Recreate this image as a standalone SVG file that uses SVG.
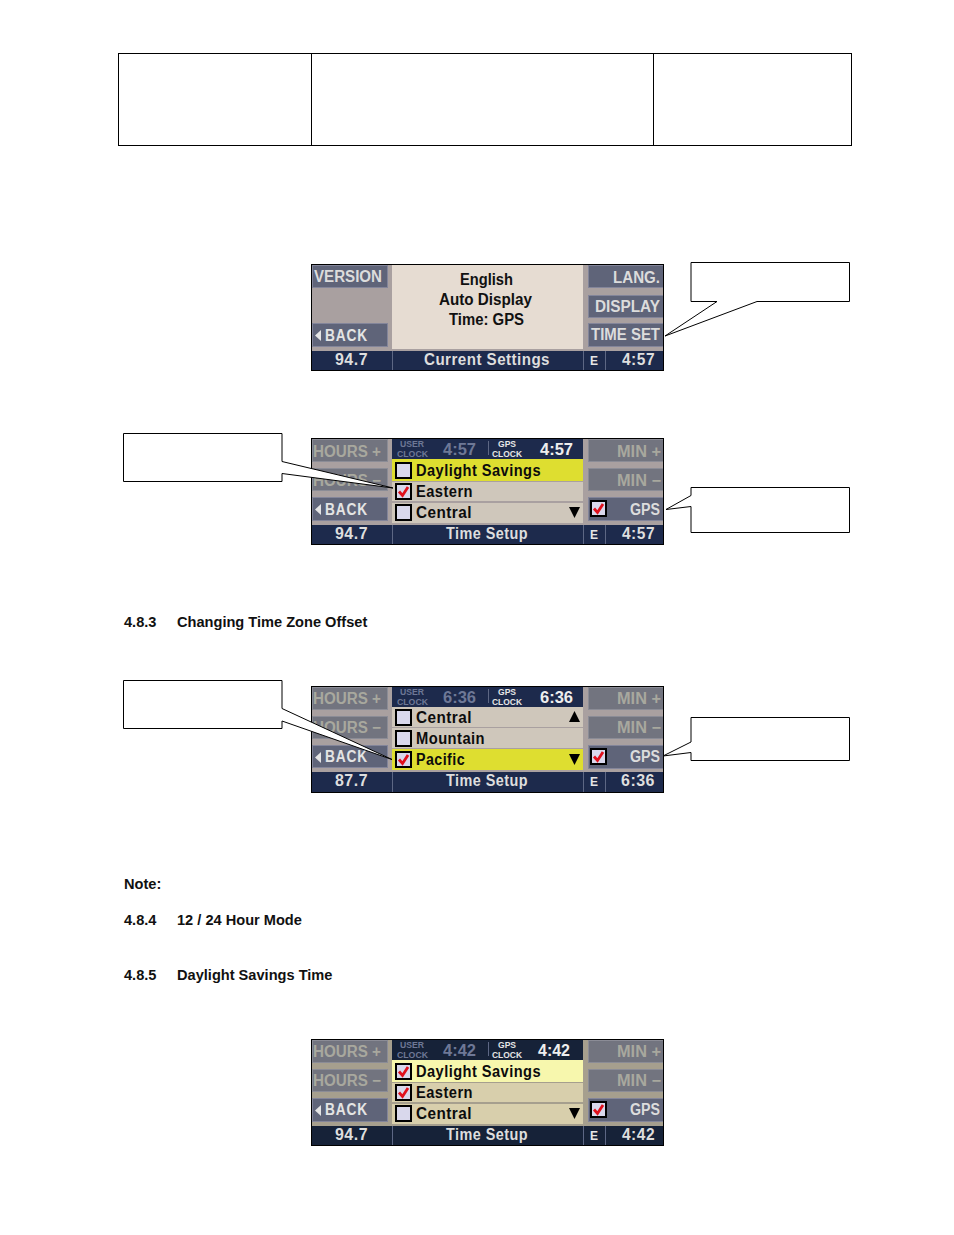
<svg xmlns="http://www.w3.org/2000/svg" xmlns:xlink="http://www.w3.org/1999/xlink" width="954" height="1235" viewBox="0 0 954 1235">
<style>
text{font-family:"Liberation Sans",Arial,sans-serif}
.panel{fill:#a9a0a0}
.frame{fill:none;stroke:#000;stroke-width:1}
.btn{fill:#5f6479;stroke:#83859a;stroke-width:1}
.dim{fill:#72747f;stroke:#8b8c96;stroke-width:1}
.nav{fill:#1d2a4c}
.sep{stroke:#5d6784;stroke-width:1}
.bl{font-size:16px;font-weight:bold;fill:#dcdcdc}
.bd{font-size:16px;font-weight:bold;fill:#a8a89e}
.bb{font-size:16px;font-weight:bold;fill:#e4e4e4;letter-spacing:1px}
.bar{font-size:16px;font-weight:bold;fill:#dedede;letter-spacing:.5px}
.e{font-size:12px;font-weight:bold;fill:#e6e6e6;text-anchor:middle}
.row{font-size:16px;font-weight:bold;fill:#0c0c0c;letter-spacing:.5px}
.cen{font-size:16px;font-weight:bold;fill:#111}
.tiny{font-size:8.500px;font-weight:bold;fill:#6e7896}
.tinyw{font-size:8.500px;font-weight:bold;fill:#e6e6e6}
.clkd{font-size:16px;font-weight:bold;fill:#6e7896}
.clkw{font-size:16px;font-weight:bold;fill:#eee}
.call{fill:#fff;stroke:#000;stroke-width:1}
.head{font-size:14.600px;font-weight:bold;fill:#111}
.tbl{fill:none;stroke:#000;stroke-width:1}
</style>
<defs>
<g id="box"><rect x="1" y="1" width="15" height="15" fill="#d9d8ec" stroke="#000" stroke-width="2"/></g>
<g id="chk"><rect x="1" y="1" width="15" height="15" fill="#d9d8ec" stroke="#000" stroke-width="2"/><path d="M4 8.500L7.500 12.500L13 4" fill="none" stroke="#e0101c" stroke-width="2.800"/></g>
<path id="back" d="M10 66L4 71.500L10 77Z" fill="#e4e4e4"/>
</defs>

<g id="header-table">
<rect class="tbl" x="118.500" y="53.500" width="733" height="92"/>
<path class="tbl" d="M311.500 53.500V145.500M653.500 53.500V145.500"/>
</g>

<g id="screen-current-settings" transform="translate(311 264)">
<rect class="panel" x="0" y="0" width="353" height="107"/>
<rect class="btn" x="1.500" y="1.500" width="75" height="22"/>
<rect class="btn" x="1.500" y="59.500" width="75" height="23"/>
<rect class="btn" x="277.500" y="1.500" width="75" height="22"/>
<rect class="btn" x="277.500" y="31.500" width="75" height="22"/>
<rect class="btn" x="277.500" y="59.500" width="75" height="23"/>
<rect x="81" y="0" width="191" height="85" fill="#e6dcd2"/>
<rect class="nav" x="0" y="87" width="353" height="20"/>
<path class="sep" d="M81.500 87V107M272.500 87V107M294.500 87V107"/>
<text class="bl" x="3" y="18" textLength="68" lengthAdjust="spacingAndGlyphs">VERSION</text>
<use href="#back" xlink:href="#back"/>
<text class="bb" x="14" y="77" textLength="43" lengthAdjust="spacingAndGlyphs">BACK</text>
<text class="bl" x="302" y="19" textLength="47" lengthAdjust="spacingAndGlyphs">LANG.</text>
<text class="bl" x="284" y="48" textLength="65" lengthAdjust="spacingAndGlyphs">DISPLAY</text>
<text class="bl" x="280" y="76" textLength="69" lengthAdjust="spacingAndGlyphs">TIME SET</text>
<text class="cen" x="149" y="21" textLength="53" lengthAdjust="spacingAndGlyphs">English</text>
<text class="cen" x="128" y="41" textLength="93" lengthAdjust="spacingAndGlyphs">Auto Display</text>
<text class="cen" x="138" y="61" textLength="75" lengthAdjust="spacingAndGlyphs">Time: GPS</text>
<text class="bar" x="24" y="101" textLength="33" lengthAdjust="spacingAndGlyphs">94.7</text>
<text class="bar" x="113" y="101" textLength="126" lengthAdjust="spacingAndGlyphs">Current Settings</text>
<text class="e" x="283" y="101">E</text>
<text class="bar" x="311" y="101" textLength="33" lengthAdjust="spacingAndGlyphs">4:57</text>
<rect class="frame" x="0.500" y="0.500" width="352" height="106"/>
</g>

<g id="screen-time-setup-eastern" transform="translate(311 438)">
<rect class="panel" x="0" y="0" width="353" height="107"/>
<rect class="dim" x="1.500" y="1.500" width="75" height="22"/>
<rect class="dim" x="1.500" y="30.500" width="75" height="22"/>
<rect class="btn" x="1.500" y="59.500" width="75" height="23"/>
<rect class="dim" x="277.500" y="1.500" width="75" height="22"/>
<rect class="dim" x="277.500" y="30.500" width="75" height="22"/>
<rect class="btn" x="277.500" y="59.500" width="75" height="23"/>
<rect class="nav" x="81" y="1" width="191" height="20"/>
<rect x="81" y="21" width="191" height="22" fill="#dede30"/>
<rect x="81" y="44" width="191" height="19" fill="#cfc7bb"/>
<rect x="81" y="65" width="191" height="20" fill="#cfc7bb"/>
<rect class="nav" x="0" y="87" width="353" height="20"/>
<path class="sep" d="M81.500 87V107M272.500 87V107M294.500 87V107M177.500 3V17"/>
<text class="bd" x="2" y="19" textLength="68" lengthAdjust="spacingAndGlyphs">HOURS +</text>
<text class="bd" x="2" y="48" textLength="68" lengthAdjust="spacingAndGlyphs">HOURS −</text>
<use href="#back" xlink:href="#back"/>
<text class="bb" x="14" y="77" textLength="43" lengthAdjust="spacingAndGlyphs">BACK</text>
<text class="bd" x="306" y="19" textLength="44" lengthAdjust="spacingAndGlyphs">MIN +</text>
<text class="bd" x="306" y="48" textLength="44" lengthAdjust="spacingAndGlyphs">MIN −</text>
<use href="#chk" xlink:href="#chk" x="279" y="62"/>
<text class="bl" x="319" y="77" textLength="30" lengthAdjust="spacingAndGlyphs">GPS</text>
<text class="tiny" x="89" y="9" textLength="24" lengthAdjust="spacingAndGlyphs">USER</text>
<text class="tiny" x="86" y="18.700" textLength="31" lengthAdjust="spacingAndGlyphs">CLOCK</text>
<text class="clkd" x="132" y="17" textLength="33" lengthAdjust="spacingAndGlyphs">4:57</text>
<text class="tinyw" x="187" y="9" textLength="18" lengthAdjust="spacingAndGlyphs">GPS</text>
<text class="tinyw" x="181" y="18.700" textLength="30" lengthAdjust="spacingAndGlyphs">CLOCK</text>
<text class="clkw" x="229" y="17" textLength="33" lengthAdjust="spacingAndGlyphs">4:57</text>
<use href="#box" xlink:href="#box" x="84" y="24"/>
<text class="row" x="105" y="38" textLength="125" lengthAdjust="spacingAndGlyphs">Daylight Savings</text>
<use href="#chk" xlink:href="#chk" x="84" y="45"/>
<text class="row" x="105" y="59" textLength="57" lengthAdjust="spacingAndGlyphs">Eastern</text>
<use href="#box" xlink:href="#box" x="84" y="66"/>
<text class="row" x="105" y="80" textLength="56" lengthAdjust="spacingAndGlyphs">Central</text>
<path d="M258 69H269L263.500 80Z" fill="#000"/>
<text class="bar" x="24" y="101" textLength="33" lengthAdjust="spacingAndGlyphs">94.7</text>
<text class="bar" x="135" y="101" textLength="82" lengthAdjust="spacingAndGlyphs">Time Setup</text>
<text class="e" x="283" y="101">E</text>
<text class="bar" x="311" y="101" textLength="33" lengthAdjust="spacingAndGlyphs">4:57</text>
<rect class="frame" x="0.500" y="0.500" width="352" height="106"/>
</g>

<g id="heading-483">
<text class="head" x="124" y="627">4.8.3</text>
<text class="head" x="177" y="627">Changing Time Zone Offset</text>
</g>

<g id="screen-time-setup-pacific" transform="translate(311 686)">
<rect class="panel" x="0" y="0" width="353" height="107"/>
<rect class="dim" x="1.500" y="1.500" width="75" height="22"/>
<rect class="dim" x="1.500" y="30.500" width="75" height="22"/>
<rect class="btn" x="1.500" y="59.500" width="75" height="22"/>
<rect class="dim" x="277.500" y="1.500" width="75" height="22"/>
<rect class="dim" x="277.500" y="30.500" width="75" height="22"/>
<rect class="btn" x="277.500" y="59.500" width="75" height="23"/>
<rect class="nav" x="81" y="1" width="191" height="20"/>
<rect x="81" y="21" width="191" height="20" fill="#cfc7bb"/>
<rect x="81" y="42" width="191" height="20" fill="#cfc7bb"/>
<rect x="81" y="63" width="191" height="21" fill="#dede30"/>
<rect class="nav" x="0" y="86" width="353" height="21"/>
<path class="sep" d="M81.500 86V107M272.500 86V107M294.500 86V107M177.500 3V17"/>
<text class="bd" x="2" y="18" textLength="68" lengthAdjust="spacingAndGlyphs">HOURS +</text>
<text class="bd" x="2" y="47" textLength="68" lengthAdjust="spacingAndGlyphs">HOURS −</text>
<use href="#back" xlink:href="#back"/>
<text class="bb" x="14" y="76" textLength="43" lengthAdjust="spacingAndGlyphs">BACK</text>
<text class="bd" x="306" y="18" textLength="44" lengthAdjust="spacingAndGlyphs">MIN +</text>
<text class="bd" x="306" y="47" textLength="44" lengthAdjust="spacingAndGlyphs">MIN −</text>
<use href="#chk" xlink:href="#chk" x="279" y="62"/>
<text class="bl" x="319" y="76" textLength="30" lengthAdjust="spacingAndGlyphs">GPS</text>
<text class="tiny" x="89" y="9" textLength="24" lengthAdjust="spacingAndGlyphs">USER</text>
<text class="tiny" x="86" y="18.700" textLength="31" lengthAdjust="spacingAndGlyphs">CLOCK</text>
<text class="clkd" x="132" y="17" textLength="33" lengthAdjust="spacingAndGlyphs">6:36</text>
<text class="tinyw" x="187" y="9" textLength="18" lengthAdjust="spacingAndGlyphs">GPS</text>
<text class="tinyw" x="181" y="18.700" textLength="30" lengthAdjust="spacingAndGlyphs">CLOCK</text>
<text class="clkw" x="229" y="17" textLength="33" lengthAdjust="spacingAndGlyphs">6:36</text>
<use href="#box" xlink:href="#box" x="84" y="23"/>
<text class="row" x="105" y="37" textLength="56" lengthAdjust="spacingAndGlyphs">Central</text>
<path d="M258 36H269L263.500 25Z" fill="#000"/>
<use href="#box" xlink:href="#box" x="84" y="44"/>
<text class="row" x="105" y="58" textLength="69" lengthAdjust="spacingAndGlyphs">Mountain</text>
<use href="#chk" xlink:href="#chk" x="84" y="65"/>
<text class="row" x="105" y="79" textLength="49" lengthAdjust="spacingAndGlyphs">Pacific</text>
<path d="M258 68H269L263.500 79Z" fill="#000"/>
<text class="bar" x="24" y="100" textLength="33" lengthAdjust="spacingAndGlyphs">87.7</text>
<text class="bar" x="135" y="100" textLength="82" lengthAdjust="spacingAndGlyphs">Time Setup</text>
<text class="e" x="283" y="100">E</text>
<text class="bar" x="310" y="100" textLength="34" lengthAdjust="spacingAndGlyphs">6:36</text>
<rect class="frame" x="0.500" y="0.500" width="352" height="106"/>
</g>

<g id="note"><text class="head" x="124" y="889">Note:</text></g>
<g id="heading-484">
<text class="head" x="124" y="925">4.8.4</text>
<text class="head" x="177" y="925">12 / 24 Hour Mode</text>
</g>
<g id="heading-485">
<text class="head" x="124" y="980">4.8.5</text>
<text class="head" x="177" y="980">Daylight Savings Time</text>
</g>

<g id="screen-time-setup-daylight" transform="translate(311 1039)">
<rect x="0" y="0" width="353" height="107" fill="#a69f8e"/>
<rect class="dim" x="1.500" y="1.500" width="75" height="22"/>
<rect class="dim" x="1.500" y="30.500" width="75" height="22"/>
<rect class="btn" x="1.500" y="59.500" width="75" height="23"/>
<rect class="dim" x="277.500" y="1.500" width="75" height="22"/>
<rect class="dim" x="277.500" y="30.500" width="75" height="22"/>
<rect class="btn" x="277.500" y="59.500" width="75" height="23"/>
<rect x="81" y="1" width="191" height="20" fill="#162238"/>
<rect x="81" y="21" width="191" height="22" fill="#f7f7ad"/>
<rect x="81" y="44" width="191" height="19" fill="#d8cfac"/>
<rect x="81" y="65" width="191" height="20" fill="#d8cfac"/>
<rect x="0" y="87" width="353" height="20" fill="#162238"/>
<path class="sep" d="M81.500 87V107M272.500 87V107M294.500 87V107M177.500 3V17"/>
<text class="bd" x="2" y="18" textLength="68" lengthAdjust="spacingAndGlyphs">HOURS +</text>
<text class="bd" x="2" y="47" textLength="68" lengthAdjust="spacingAndGlyphs">HOURS −</text>
<use href="#back" xlink:href="#back"/>
<text class="bb" x="14" y="76" textLength="43" lengthAdjust="spacingAndGlyphs">BACK</text>
<text class="bd" x="306" y="18" textLength="44" lengthAdjust="spacingAndGlyphs">MIN +</text>
<text class="bd" x="306" y="47" textLength="44" lengthAdjust="spacingAndGlyphs">MIN −</text>
<use href="#chk" xlink:href="#chk" x="279" y="62"/>
<text class="bl" x="319" y="76" textLength="30" lengthAdjust="spacingAndGlyphs">GPS</text>
<text class="tiny" x="89" y="9" textLength="24" lengthAdjust="spacingAndGlyphs">USER</text>
<text class="tiny" x="86" y="18.700" textLength="31" lengthAdjust="spacingAndGlyphs">CLOCK</text>
<text class="clkd" x="132" y="17" textLength="33" lengthAdjust="spacingAndGlyphs">4:42</text>
<text class="tinyw" x="187" y="9" textLength="18" lengthAdjust="spacingAndGlyphs">GPS</text>
<text class="tinyw" x="181" y="18.700" textLength="30" lengthAdjust="spacingAndGlyphs">CLOCK</text>
<text class="clkw" x="227" y="17" textLength="32" lengthAdjust="spacingAndGlyphs">4:42</text>
<use href="#chk" xlink:href="#chk" x="84" y="24"/>
<text class="row" x="105" y="38" textLength="125" lengthAdjust="spacingAndGlyphs">Daylight Savings</text>
<use href="#chk" xlink:href="#chk" x="84" y="45"/>
<text class="row" x="105" y="59" textLength="57" lengthAdjust="spacingAndGlyphs">Eastern</text>
<use href="#box" xlink:href="#box" x="84" y="66"/>
<text class="row" x="105" y="80" textLength="56" lengthAdjust="spacingAndGlyphs">Central</text>
<path d="M258 69H269L263.500 80Z" fill="#000"/>
<text class="bar" x="24" y="101" textLength="33" lengthAdjust="spacingAndGlyphs">94.7</text>
<text class="bar" x="135" y="101" textLength="82" lengthAdjust="spacingAndGlyphs">Time Setup</text>
<text class="e" x="283" y="101">E</text>
<text class="bar" x="311" y="101" textLength="33" lengthAdjust="spacingAndGlyphs">4:42</text>
<rect class="frame" x="0.500" y="0.500" width="352" height="106"/>
</g>

<g id="callouts">
<polygon id="callout-1" class="call" points="691,262.500 849.500,262.500 849.500,301.500 757,301.500 665,336 717,301.500 691,301.500"/>
<polygon id="callout-2" class="call" points="123.500,433.500 282,433.500 282,461.500 393,488 282,473.500 282,481.500 123.500,481.500"/>
<polygon id="callout-3" class="call" points="691,487.500 849.500,487.500 849.500,532.500 691,532.500 691,506.500 666,509.500 691,495.500"/>
<polygon id="callout-4" class="call" points="123.500,680.500 282,680.500 282,708.500 392,759.500 282,721 282,728.500 123.500,728.500"/>
<polygon id="callout-5" class="call" points="691,717.500 849.500,717.500 849.500,760.500 691,760.500 691,752.500 663,756 691,742"/>
</g>
</svg>
